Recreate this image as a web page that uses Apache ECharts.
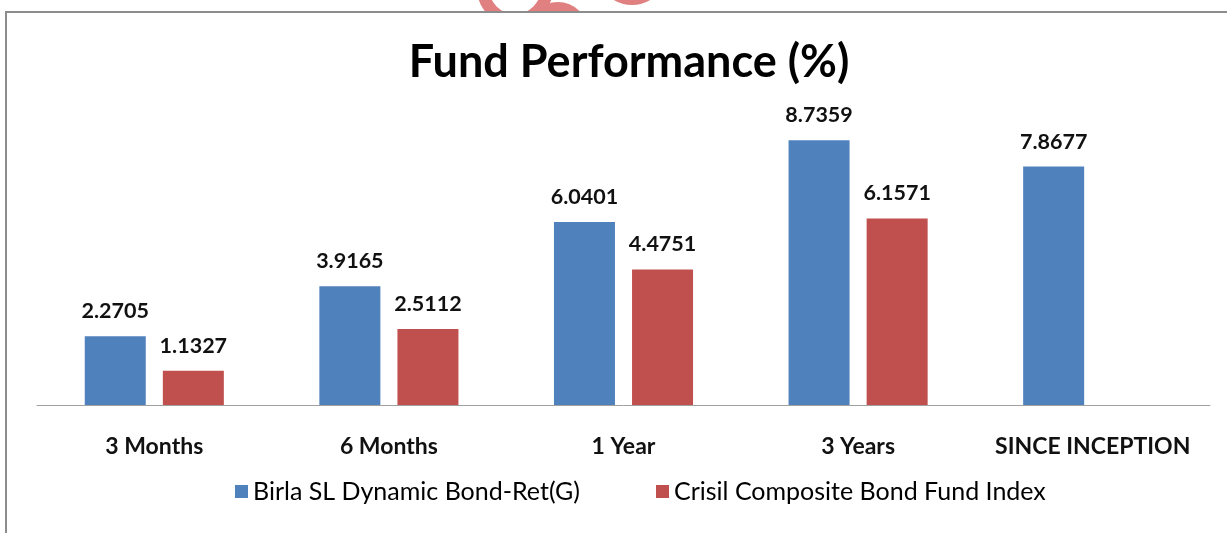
<!DOCTYPE html>
<html>
<head>
<meta charset="utf-8">
<script src="https://cdn.jsdelivr.net/npm/echarts@6/dist/echarts.min.js"></script>
<style>
  html, body { margin: 0; padding: 0; background: #fff; }
  #chart { width: 1227px; height: 533px; }
</style>
</head>
<body>
<div id="chart"></div>
<script>
const categories = ["3 Months", "6 Months", "1 Year", "3 Years", "SINCE INCEPTION"];
const fundName = "Birla SL Dynamic Bond-Ret(G)";
const indexName = "Crisil Composite Bond Fund Index";
const fundValues = [2.2705, 3.9165, 6.0401, 8.7359, 7.8677];
const indexValues = [1.1327, 2.5112, 4.4751, 6.1571, null];

const font = "Lato, 'Open Sans', sans-serif";

let chartDom = document.getElementById("chart");
let myChart = echarts.init(chartDom);

const labelStyle = {
  show: true,
  position: "top",
  distance: 14,
  fontFamily: font,
  fontWeight: "bold",
  fontSize: 21.5,
  color: "#111",
  formatter: (p) => p.value.toFixed(4),
};

const option = {
  animation: false,
  backgroundColor: "#fff",
  title: {
    text: "Fund Performance (%)",
    left: 624,
    textAlign: "center",
    top: 35,
    textStyle: { fontFamily: font, fontWeight: "bold", fontSize: 45, color: "#000" },
  },
  legend: {
    left: 230,
    top: 474,
    itemWidth: 13,
    itemHeight: 13,
    itemGap: 76,
    icon: "rect",
    textStyle: { fontFamily: font, fontSize: 25, color: "#000" },
    data: [fundName, indexName],
  },
  grid: { left: 37, right: 17, top: 102, bottom: 128 },
  xAxis: {
    type: "category",
    data: categories,
    z: 5,
    axisLine: { lineStyle: { color: "#a0a0a0", width: 1 } },
    axisTick: { show: false },
    axisLabel: {
      interval: 0,
      margin: 30,
      fontFamily: font,
      fontWeight: "bold",
      fontSize: 23,
      color: "#111",
    },
  },
  yAxis: { type: "value", min: 0, max: 10, show: false, splitLine: { show: false } },
  series: [
    {
      name: fundName,
      type: "bar",
      data: fundValues,
      barWidth: 61,
      barGap: "28%",
      itemStyle: { color: "#4f81bd" },
      label: labelStyle,
    },
    {
      name: indexName,
      type: "bar",
      data: indexValues,
      barWidth: 61,
      itemStyle: { color: "#c0504d" },
      label: labelStyle,
    },
  ],
  graphic: [
    // partial watermark logo peeking above the frame
    { type: "circle", z: -3, shape: { cx: 515, cy: -12, r: 32 }, style: { fill: "none", stroke: "#e08080", lineWidth: 12 } },
    { type: "circle", z: -3, shape: { cx: 558, cy: 32, r: 30 }, style: { fill: "#e08080" } },
    { type: "circle", z: -3, shape: { cx: 632, cy: -30, r: 30 }, style: { fill: "none", stroke: "#e08080", lineWidth: 10 } },
    { type: "rect", z: -2, shape: { x: 0, y: 13, width: 1227, height: 520 }, style: { fill: "#fff" } },
    // chart frame
    { type: "rect", z: -1, shape: { x: 6, y: 12, width: 1300, height: 600 }, style: { fill: "none", stroke: "#8c8c8c", lineWidth: 2 } },
  ],
};

option && myChart.setOption(option);
</script>
</body>
</html>
